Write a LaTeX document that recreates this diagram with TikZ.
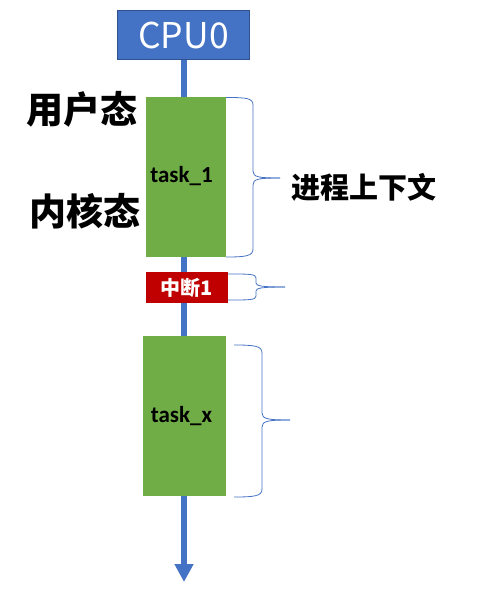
\documentclass[tikz,border=0pt]{standalone}
\usepackage{fontspec}
\newfontfamily\cjk{Noto Sans CJK SC}
\newfontfamily\latinb{Carlito}
\usetikzlibrary{arrows.meta}
\definecolor{cpublue}{HTML}{4472C4}
\definecolor{cpuedge}{HTML}{2F528F}
\definecolor{taskgreen}{HTML}{70AD47}
\definecolor{irqred}{HTML}{C00000}
\tikzset{
  taskbox/.style={fill=taskgreen, draw=none, inner sep=0pt, text=black},
  tasklabel/.style={font=\latinb\bfseries\fontsize{23}{27}\selectfont, text=black, inner sep=0pt},
  bigcn/.style={font=\cjk\bfseries\fontsize{37}{42}\selectfont, text=black, inner sep=0pt},
  bracepath/.style={draw=cpublue, line width=0.8pt},
}
\begin{document}
\begin{tikzpicture}[x=1pt,y=-1pt]
\useasboundingbox (0,0) rectangle (488,601);
\coordinate (top) at (184,60);
\coordinate (bot) at (184,582);
\draw[cpublue, line width=6pt, -{Triangle[width=18pt,length=18pt]}] (top) -- (bot);
\node[fill=cpublue, draw=cpuedge, line width=1.5pt, minimum width=132pt, minimum height=49pt, inner sep=0pt, text=white, font=\cjk\fontsize{35.5}{40}\selectfont] (cpu) at (183.5,35) {CPU0};
\node[taskbox, minimum width=80pt, minimum height=160pt] (t1) at (186,177) {};
\node[tasklabel] (t1l) at (181.5,176) {task\_1};
\node[fill=irqred, inner sep=0pt, minimum width=82pt, minimum height=31pt, text=white, font=\cjk\bfseries\fontsize{20}{24}\selectfont] (irq) at (187,287.5) {中断1};
\node[taskbox, minimum width=83pt, minimum height=160pt] (tx) at (184.5,416) {};
\node[tasklabel] (txl) at (181.5,416) {task\_x};
\node[bigcn] (user) at (81.5,109) {用户态};
\node[bigcn] (kern) at (84.5,211) {内核态};
\node[font=\cjk\bfseries\fontsize{29}{33}\selectfont, inner sep=0pt] (ctx) at (364,187) {进程上下文};
% brace 1
\draw[bracepath] (226,97.5) .. controls (246,97.5) and (253,98) .. (253,105) -- (253,171) .. controls (253,177) and (258,178) .. (280,178);
\draw[bracepath] (226,257) .. controls (246,257) and (253,256) .. (253,249) -- (253,185) .. controls (253,179) and (258,178) .. (280,178);
% brace 2
\draw[bracepath] (228,274) .. controls (250,274) and (256,274) .. (256,278) -- (256,283) .. controls (256,286) and (262,287) .. (285,287);
\draw[bracepath] (228,300) .. controls (250,300) and (256,300) .. (256,296) -- (256,291) .. controls (256,288) and (262,287) .. (285,287);
% brace 3
\draw[bracepath] (234,345) .. controls (255,345) and (262,346) .. (262,353) -- (262,413) .. controls (262,419) and (268,420) .. (290,420);
\draw[bracepath] (234,497) .. controls (255,497) and (262,496) .. (262,489) -- (262,427) .. controls (262,421) and (268,420) .. (290,420);
\end{tikzpicture}
\end{document}
